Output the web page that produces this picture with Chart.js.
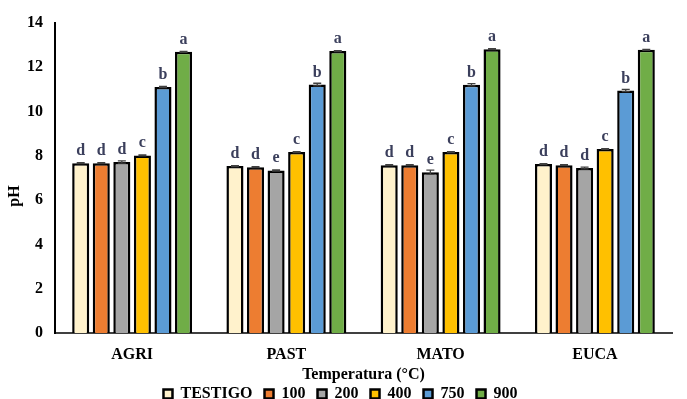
<!DOCTYPE html>
<html>
<head>
<meta charset="utf-8">
<script src="https://cdn.jsdelivr.net/npm/chart.js@4"></script>
<style>
  html, body { margin: 0; padding: 0; background: #fff; overflow: hidden; }
  #wrap { width: 687px; height: 412px; }
</style>
</head>
<body>
<div id="wrap"><canvas id="phChart"></canvas></div>
<script>
// pH by material and pyrolysis temperature
const categories = ['AGRI', 'PAST', 'MATO', 'EUCA'];
const seriesNames = ['TESTIGO', '100', '200', '400', '750', '900'];
const yTicks = [0, 2, 4, 6, 8, 10, 12, 14];

const testigo = [7.67, 7.54, 7.58, 7.63];
const t100 = [7.67, 7.49, 7.58, 7.58];
const t200 = [7.72, 7.34, 7.26, 7.45];
const t400 = [8.02, 8.17, 8.17, 8.31];
const t750 = [11.11, 11.22, 11.21, 10.95];
const t900 = [12.70, 12.73, 12.82, 12.79];

const errTestigo = [0.02, 0.02, 0.02, 0.02];
const err100 = [0.02, 0.02, 0.02, 0.02];
const err200 = [0.05, 0.03, 0.10, 0.04];
const err400 = [0.02, 0.02, 0.02, 0.02];
const err750 = [0.03, 0.06, 0.05, 0.05];
const err900 = [0.02, 0.02, 0.02, 0.02];

const lettersTestigo = ['d', 'd', 'd', 'd'];
const letters100 = ['d', 'd', 'd', 'd'];
const letters200 = ['d', 'e', 'e', 'd'];
const letters400 = ['c', 'c', 'c', 'c'];
const letters750 = ['b', 'b', 'b', 'b'];
const letters900 = ['a', 'a', 'a', 'a'];

const values = [testigo, t100, t200, t400, t750, t900];
const errors = [errTestigo, err100, err200, err400, err750, err900];
const letters = [lettersTestigo, letters100, letters200, letters400, letters750, letters900];
const colors = ['#FFF2CC', '#ED7D31', '#A5A5A5', '#FFC000', '#5B9BD5', '#70AD47'];

const serif = 'Liberation Serif';

// error bars + significance letters, plus the pH axis title
const annotations = {
    id: 'annotations',
    afterDatasetsDraw(chart) {
        const ctx = chart.ctx;
        const y = chart.scales.y;
        ctx.save();
        chart.data.datasets.forEach(function(ds, i) {
            const meta = chart.getDatasetMeta(i);
            meta.data.forEach(function(bar, j) {
                const v = values[i][j];
                const e = errors[i][j];
                const top = y.getPixelForValue(v + e);
                const bot = y.getPixelForValue(v - e);
                ctx.strokeStyle = '#404040';
                ctx.lineWidth = 1.3;
                ctx.beginPath();
                ctx.moveTo(bar.x, top);
                ctx.lineTo(bar.x, bot);
                ctx.moveTo(bar.x - 4, top);
                ctx.lineTo(bar.x + 4, top);
                ctx.moveTo(bar.x - 4, bot);
                ctx.lineTo(bar.x + 4, bot);
                ctx.stroke();

                ctx.fillStyle = '#3b3f5c';
                ctx.font = 'bold 16px "' + serif + '"';
                ctx.textAlign = 'center';
                ctx.textBaseline = 'alphabetic';
                ctx.fillText(letters[i][j], bar.x, y.getPixelForValue(v) - 8);
            });
        });

        // y title sits a bit below the axis middle in the original
        ctx.translate(15, 196);
        ctx.rotate(-Math.PI / 2);
        ctx.fillStyle = '#000';
        ctx.font = 'bold 16px "' + serif + '"';
        ctx.textAlign = 'center';
        ctx.textBaseline = 'middle';
        ctx.fillText('pH', 0, 0);
        ctx.restore();
    }
};

const ctx = document.getElementById('phChart');
new Chart(ctx.getContext('2d'), {
    type: 'bar',
    data: {
        labels: categories,
        datasets: seriesNames.map(function(name, i) {
            return {
                label: name,
                data: values[i],
                backgroundColor: colors[i],
                borderColor: '#000000',
                borderWidth: 2.5,
                categoryPercentage: 0.80,
                barPercentage: 0.83
            };
        })
    },
    options: {
        responsive: true,
        maintainAspectRatio: false,
        animation: false,
        layout: {
            padding: { top: 23, right: 15, left: 9, bottom: 0 }
        },
        plugins: {
            tooltip: { enabled: false },
            legend: {
                position: 'bottom',
                labels: {
                    boxWidth: 9,
                    boxHeight: 9,
                    padding: 12,
                    color: '#000',
                    font: { family: serif, size: 16, weight: 'bold' }
                }
            }
        },
        scales: {
            x: {
                afterFit: function(scale) { scale.height = 41; },
                grid: { display: false, drawTicks: false },
                border: { display: true, color: '#404040', width: 2 },
                ticks: {
                    color: '#000',
                    padding: 12,
                    font: { family: serif, size: 16, weight: 'bold' }
                },
                title: {
                    display: true,
                    text: 'Temperatura (°C)',
                    color: '#000',
                    padding: { top: 0, bottom: -10 },
                    font: { family: serif, size: 16, weight: 'bold' }
                }
            },
            y: {
                min: 0,
                max: 14,
                afterBuildTicks: function(scale) {
                    scale.ticks = yTicks.map(function(v) { return { value: v }; });
                },
                afterFit: function(scale) { scale.width = 46; },
                grid: { display: false, drawOnChartArea: false, drawTicks: true, tickLength: 6, color: '#000', tickWidth: 2 },
                border: { display: true, color: '#000', width: 2 },
                ticks: {
                    color: '#000',
                    padding: 6,
                    font: { family: serif, size: 16, weight: 'bold' }
                }
            }
        }
    },
    plugins: [annotations]
});
</script>
</body>
</html>
